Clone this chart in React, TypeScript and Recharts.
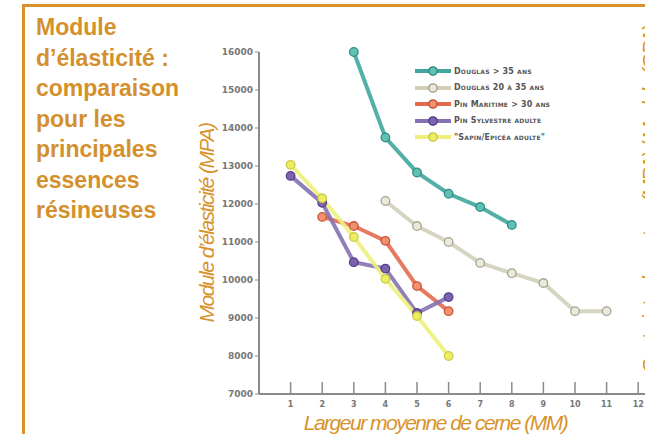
import React from "react";
import { LineChart, Line, XAxis, YAxis, Legend } from "recharts";

const WIDTHS = [1, 2, 3, 4, 5, 6, 7, 8, 9, 10, 11];
const X_TICKS = [1, 2, 3, 4, 5, 6, 7, 8, 9, 10, 11, 12];
const Y_TICKS = [7000, 8000, 9000, 10000, 11000, 12000, 13000, 14000, 15000, 16000];

const douglasOld = [null, null, 16000, 13750, 12830, 12270, 11920, 11450, null, null, null];
const douglasYoung = [null, null, null, 12080, 11420, 11000, 10450, 10180, 9920, 9180, 9180];
const pinMaritime = [null, 11660, 11420, 11030, 9840, 9180, null, null, null, null, null];
const pinSylvestre = [12740, 12030, 10470, 10300, 9130, 9550, null, null, null, null, null];
const sapinEpicea = [13030, 12150, 11130, 10030, 9050, 8000, null, null, null, null, null];

const SERIES = [
  { key: "douglasOld", name: "Douglas > 35 ans", line: "#3fa79c", fill: "#5fc0b4", stroke: "#2a8479", values: douglasOld },
  { key: "douglasYoung", name: "Douglas 20 à 35 ans", line: "#d2d0bb", fill: "#ebe9dc", stroke: "#9d9b85", values: douglasYoung },
  { key: "pinMaritime", name: "Pin Maritime > 30 ans", line: "#e36c4f", fill: "#f0906f", stroke: "#c4492f", values: pinMaritime },
  { key: "pinSylvestre", name: "Pin Sylvestre adulte", line: "#8571b2", fill: "#7d63ae", stroke: "#4e3685", values: pinSylvestre },
  { key: "sapinEpicea", name: "\"Sapin/Epicéa adulte\"", line: "#efef7c", fill: "#eded62", stroke: "#c6c63e", values: sapinEpicea },
];

const data = WIDTHS.map((x, i) => {
  const row: Record<string, number | null> = { x };
  SERIES.forEach((s) => (row[s.key] = s.values[i]));
  return row;
});

const ORANGE = "#d8922a";
const AXIS = "#8a8a8a";

const XTick = (props: { x?: number; y?: number; payload?: { value: number } }) => {
  const { x = 0, y = 0, payload } = props;
  return (
    <g>
      <line x1={x} x2={x} y1={y - 12} y2={y} stroke={AXIS} strokeWidth={1.5} />
      <text x={x} y={y + 13} textAnchor="middle" fontSize={8} fontWeight="bold" fill="#777" fontFamily="DejaVu Sans">
        {payload?.value}
      </text>
    </g>
  );
};

const LegendBox = () => (
  <div style={{ fontFamily: "DejaVu Sans", fontSize: 8, fontWeight: "bold", color: "#555", fontVariant: "small-caps" }}>
    {SERIES.map((s) => (
      <div key={s.key} style={{ display: "flex", alignItems: "center", height: 16.5 }}>
        <svg width={36} height={10} style={{ marginRight: 3 }}>
          <line x1={0} x2={36} y1={5} y2={5} stroke={s.line} strokeWidth={4} />
          <circle cx={18} cy={5} r={4.2} fill={s.fill} stroke={s.stroke} strokeWidth={1.3} />
        </svg>
        <span style={{ letterSpacing: 0.2 }}>{s.name}</span>
      </div>
    ))}
  </div>
);

export default function App() {
  return (
    <div
      style={{
        position: "absolute",
        left: 0,
        top: 0,
        width: 645,
        height: 434,
        overflow: "hidden",
        background: "#fff",
        fontFamily: "Liberation Sans, Arial, sans-serif",
      }}
    >
      {/* frame */}
      <div style={{ position: "absolute", left: 22, top: 4, width: 640, height: 3, background: ORANGE }} />
      <div style={{ position: "absolute", left: 22, top: 4, width: 3, height: 440, background: ORANGE }} />

      {/* title */}
      <div
        style={{
          position: "absolute",
          left: 36,
          top: 12,
          color: "#d4902c",
          fontWeight: "bold",
          fontSize: 23,
          lineHeight: "30.5px",
        }}
      >
        Module
        <br />
        d’élasticité :
        <br />
        comparaison
        <br />
        pour les
        <br />
        principales
        <br />
        essences
        <br />
        résineuses
      </div>

      {/* right-hand axis title, cut by the picture edge as in the source */}
      <svg style={{ position: "absolute", left: 0, top: 0 }} width={645} height={434}>
        <text
          transform="translate(657, 200) rotate(-90)"
          textAnchor="middle"
          fill={ORANGE}
          fontStyle="italic"
          fontSize={21}
          letterSpacing={-1.5}
          fontFamily="Liberation Sans"
        >
          Contrainte de rupture (MPA) / Module (GPA)
        </text>
      </svg>

      <div style={{ position: "absolute", left: 0, top: 0 }}>
        <LineChart width={660} height={434} data={data} margin={{ top: 52, right: 6, left: 199, bottom: 0 }}>
          <XAxis
            dataKey="x"
            type="number"
            domain={[0, 12.5]}
            ticks={X_TICKS}
            allowDataOverflow
            height={40}
            axisLine={{ stroke: AXIS, strokeWidth: 2 }}
            tickLine={false}
            tickSize={0}
            tickMargin={0}
            tick={<XTick />}
            label={{
              content: ({ viewBox }: { viewBox?: { x: number; y: number; width: number } }) =>
                viewBox ? (
                  <text
                    x={viewBox.x + viewBox.width / 2 - 21}
                    y={viewBox.y + 36}
                    textAnchor="middle"
                    fill={ORANGE}
                    fontStyle="italic"
                    fontSize={21}
                    letterSpacing={-1.5}
                    fontFamily="Liberation Sans"
                  >
                    Largeur moyenne de cerne (MM)
                  </text>
                ) : null,
            }}
          />
          <YAxis
            type="number"
            domain={[7000, 16000]}
            ticks={Y_TICKS}
            width={60}
            axisLine={{ stroke: AXIS, strokeWidth: 2 }}
            tickLine={{ stroke: AXIS }}
            tickSize={4}
            tickMargin={2}
            tick={{ fontSize: 9, fontWeight: "bold", fill: "#777", fontFamily: "DejaVu Sans" }}
            label={{
              content: ({ viewBox }: { viewBox?: { x: number; y: number; height: number } }) =>
                viewBox ? (
                  <text
                    transform={`translate(${viewBox.x + 15}, ${viewBox.y + viewBox.height / 2}) rotate(-90)`}
                    textAnchor="middle"
                    fill={ORANGE}
                    fontStyle="italic"
                    fontSize={21}
                    letterSpacing={-1.5}
                    fontFamily="Liberation Sans"
                  >
                    Module d’élasticité (MPA)
                  </text>
                ) : null,
            }}
          />
          <Legend
            layout="vertical"
            align="center"
            verticalAlign="middle"
            wrapperStyle={{ left: 415, top: 63, width: 190 }}
            content={<LegendBox />}
          />
          {SERIES.map((s) => (
            <Line
              key={s.key}
              dataKey={s.key}
              name={s.name}
              type="linear"
              stroke={s.line}
              strokeWidth={4}
              strokeOpacity={0.9}
              dot={{ r: 4.3, fill: s.fill, stroke: s.stroke, strokeWidth: 1.3, fillOpacity: 1 }}
              activeDot={false}
              isAnimationActive={false}
            />
          ))}
        </LineChart>
      </div>
    </div>
  );
}
